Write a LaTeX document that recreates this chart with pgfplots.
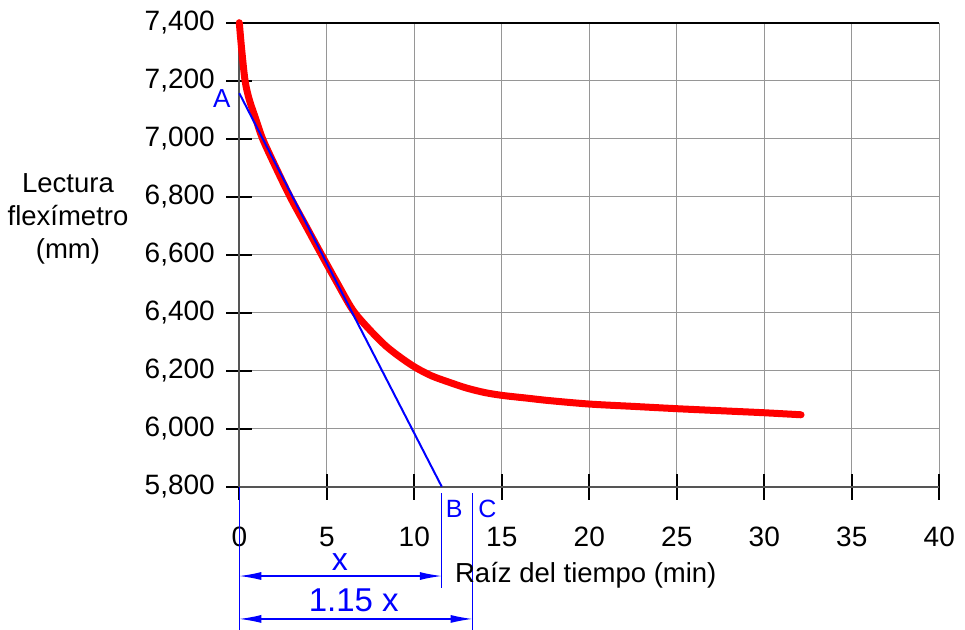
\documentclass[border=0pt]{standalone}
\usepackage{fontspec}
\setmainfont{Liberation Sans}
\usepackage{pgfplots}
\pgfplotsset{compat=1.18}
\usetikzlibrary{arrows.meta}
\definecolor{gridgray}{RGB}{150,150,150}
\definecolor{axisgray}{RGB}{85,85,85}

\begin{document}
\begin{tikzpicture}
\begin{axis}[
  scale only axis, width=700pt, height=464pt,
  xmin=0, xmax=40, ymin=5800, ymax=7400,
  xtick distance=5, ytick distance=200,
  axis lines*=left,
  axis line style={axisgray, line width=2pt},
  grid=major, grid style={gridgray, line width=1.2pt},
  tick align=center, major tick length=26pt,
  tick style={black, line width=2pt},
  scaled y ticks=false,
  /pgf/number format/assume math mode=true,
  /pgf/number format/1000 sep={,},
  tick label style={font=\fontsize{28}{33}\selectfont},
  xticklabel style={yshift=-24pt},
  yticklabel style={xshift=-8pt},
  label style={font=\fontsize{27.5}{33}\selectfont},
  xlabel={Raíz del tiempo (min)},
  xlabel style={at={(rel axis cs:0.495,-0.19)}, anchor=center},
  ylabel={Lectura\\flexímetro\\(mm)},
  ylabel style={at={(rel axis cs:-0.2447,0.578)}, rotate=-90, anchor=center, align=center},
  clip=false,
]
% dark top border
\draw[black, line width=2pt] (rel axis cs:0,1) -- (rel axis cs:1,1);

% measured curve
\addplot[red, line width=7pt, smooth, line cap=round, line join=round] coordinates {
  (0,7400) (0.14,7305) (0.33,7200) (0.57,7135) (0.96,7065) (1.33,7000)
  (2.0,6912) (2.9,6800) (3.8,6700) (4.7,6600) (5.6,6502) (6.5,6408)
  (7.5,6338) (8.4,6284) (9.3,6242) (10.1,6210) (11.0,6182) (12.0,6160)
  (13.0,6140) (14.0,6125) (15.0,6115) (16.5,6105) (17.7,6097) (20.0,6085)
  (22.5,6077) (25.0,6069) (27.5,6062) (30.0,6055) (32.1,6048)
};

% tangent line A-B
\addplot[blue, line width=2pt] coordinates {(0,7157) (11.57,5800)};

% construction lines
\draw[blue, line width=1.2pt] (axis cs:0,5800) -- (axis cs:0,5306);
\draw[blue, line width=1.2pt] (axis cs:11.57,5778) -- (axis cs:11.57,5451);
\draw[blue, line width=1.2pt] (axis cs:13.33,5778) -- (axis cs:13.33,5306);
\draw[blue, line width=1.2pt, {Latex[length=22pt,width=8pt]}-{Latex[length=22pt,width=8pt]}]
  (axis cs:0,5492) -- (axis cs:11.57,5492);
\draw[blue, line width=1.2pt, {Latex[length=22pt,width=8pt]}-{Latex[length=22pt,width=8pt]}]
  (axis cs:0,5344) -- (axis cs:13.33,5344);

\node[blue, inner sep=0pt, font=\fontsize{26}{30}\selectfont] at (axis cs:-1.0,7139) {A};
\node[blue, inner sep=0pt, font=\fontsize{25}{30}\selectfont] at (axis cs:12.28,5725) {B};
\node[blue, inner sep=0pt, font=\fontsize{25}{30}\selectfont] at (axis cs:14.18,5725) {C};
\node[blue, inner sep=0pt, font=\fontsize{32}{38}\selectfont] at (axis cs:5.75,5541) {x};
\node[blue, inner sep=0pt, font=\fontsize{33}{40}\selectfont] at (axis cs:6.54,5407) {1.15 x};

\coordinate (bbsw) at (axis cs:-13.674,5306);
\coordinate (bbne) at (axis cs:41.469,7478.3);
\end{axis}
\pgfresetboundingbox
\path (bbsw) rectangle (bbne);
\end{tikzpicture}
\end{document}
